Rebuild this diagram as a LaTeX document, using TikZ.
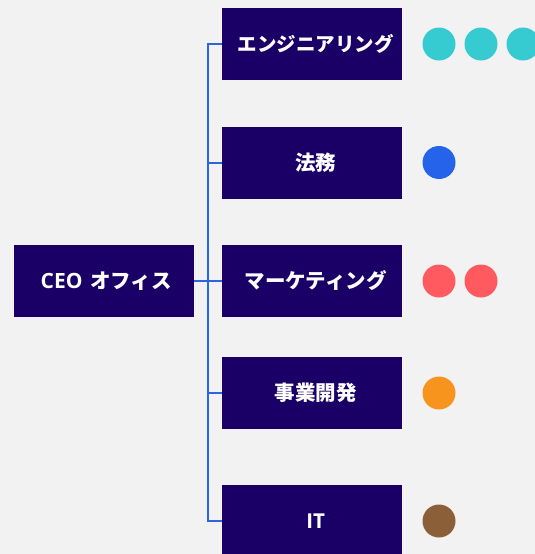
\documentclass[tikz,border=0pt]{standalone}
\usepackage{fontspec}
\setmainfont{Noto Sans CJK JP}
\newfontfamily\latinfont{Open Sans}
\definecolor{bg}{HTML}{F2F2F2}
\definecolor{boxc}{HTML}{1A0066}
\definecolor{linec}{HTML}{2A66E0}
\definecolor{teal}{HTML}{36CBD0}
\definecolor{bluec}{HTML}{2563EB}
\definecolor{redc}{HTML}{FF5A5F}
\definecolor{orangec}{HTML}{F7941D}
\definecolor{brownc}{HTML}{8B6038}
\tikzset{
  unit/.style={fill=boxc, text=white, font=\fontsize{20.5}{24}\selectfont\bfseries, minimum width=180pt, minimum height=72pt, inner sep=0pt, anchor=west},
  dot/.style={circle, minimum size=33pt, inner sep=0pt},
  conn/.style={draw=linec, line width=2pt}
}
\begin{document}
\begin{tikzpicture}[x=1pt,y=-1pt]
\useasboundingbox (0,0) rectangle (535,554);
\clip (0,0) rectangle (535,554);
\fill[bg] (0,0) rectangle (535,554);
\node[unit] (ceo) at (14,281) {\hspace{4pt}{\latinfont\fontsize{21}{24}\selectfont CEO}\hspace{7.5pt}オフィス};
\node[unit] (eng) at (221.5,44) {\hspace{8pt}\fontsize{19.5}{24}\selectfont エンジニアリング};
\node[unit] (hou) at (221.5,162.5) {\hspace{8pt}法務};
\node[unit] (mkt) at (221.5,281) {\hspace{8pt}マーケティング};
\node[unit] (biz) at (221.5,393) {\hspace{8pt}事業開発};
\node[unit] (it) at (221.5,521) {\hspace{8pt}{\latinfont IT}};
\coordinate (ttop) at (208,44);
\coordinate (tbot) at (208,521);
\draw[conn] (eng.west) -- (ttop) -- (tbot) -- (it.west);
\draw[conn] (hou.west) -- (hou.west -| ttop);
\draw[conn] (biz.west) -- (biz.west -| ttop);
\draw[conn] (ceo.east) -- (mkt.west);
\node[dot, fill=teal] (e1) at (439,44) {};
\node[dot, fill=teal] (e2) at (481,44) {};
\node[dot, fill=teal] (e3) at (523,44) {};
\node[dot, fill=bluec] (h1) at (439,162.5) {};
\node[dot, fill=redc] (m1) at (439,281) {};
\node[dot, fill=redc] (m2) at (481,281) {};
\node[dot, fill=orangec] (b1) at (439,393) {};
\node[dot, fill=brownc] (i1) at (439,521) {};
\end{tikzpicture}
\end{document}
